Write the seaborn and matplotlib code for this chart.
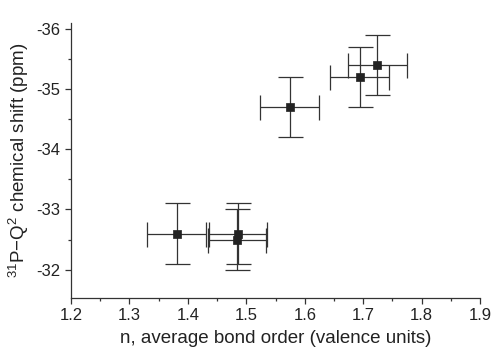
import matplotlib
matplotlib.use("Agg")
import matplotlib.pyplot as plt
from matplotlib.ticker import MultipleLocator
import seaborn as sns
import pandas as pd

bond_order = [1.381, 1.486, 1.484, 1.574, 1.694, 1.724]
shift_ppm = [-32.6, -32.6, -32.5, -34.7, -35.2, -35.4]
bond_err = [0.05, 0.05, 0.05, 0.05, 0.05, 0.05]
shift_err = [0.5, 0.5, 0.5, 0.5, 0.5, 0.5]

df = pd.DataFrame({"n": bond_order, "shift": shift_ppm})

sns.set_theme(style="ticks")
plt.rcParams["font.family"] = ["Liberation Sans", "DejaVu Sans"]
plt.rcParams["mathtext.fontset"] = "custom"
plt.rcParams["mathtext.rm"] = "Liberation Sans"
plt.rcParams["axes.unicode_minus"] = False

fig = plt.figure(figsize=(4.92, 3.53), dpi=100)
ax = fig.add_axes([0.144, 0.156, 0.832, 0.779])

ax.errorbar(bond_order, shift_ppm, xerr=bond_err, yerr=shift_err, fmt="none",
            ecolor="#333333", elinewidth=0.9, capsize=9, capthick=0.9, zorder=2)
sns.scatterplot(data=df, x="n", y="shift", marker="s", s=40, color="#222222",
                edgecolor="#222222", linewidth=0.5, ax=ax, zorder=3)

ax.set_xlim(1.2, 1.9)
ax.set_ylim(-31.53, -36.1)
ax.xaxis.set_major_locator(MultipleLocator(0.1))
ax.xaxis.set_minor_locator(MultipleLocator(0.05))
ax.yaxis.set_major_locator(MultipleLocator(1))
ax.yaxis.set_minor_locator(MultipleLocator(0.5))
ax.set_xticks([1.2, 1.3, 1.4, 1.5, 1.6, 1.7, 1.8, 1.9])
ax.set_xticklabels(["1.2", "1.3", "1.4", "1.5", "1.6", "1.7", "1.8", "1.9"])
ax.set_yticks([-36, -35, -34, -33, -32])
ax.set_yticklabels(["-36", "-35", "-34", "-33", "-32"])

for s in ["top", "right"]:
    ax.spines[s].set_visible(False)
for s in ["left", "bottom"]:
    ax.spines[s].set_color("#333333")
    ax.spines[s].set_linewidth(0.9)

ax.tick_params(axis="both", which="major", direction="out", length=4.5, width=0.9,
               color="#333333", labelsize=12, labelcolor="#222222", pad=3)
ax.tick_params(axis="both", which="minor", direction="out", length=2.5, width=0.9,
               color="#333333")

ax.set_xlabel("n, average bond order (valence units)", fontsize=13.5, color="#222222", labelpad=5)
ax.set_ylabel(r"$^{31}$P$-$Q$^{2}$ chemical shift (ppm)", fontsize=13.5, color="#222222", labelpad=4)

fig.savefig("out.png", dpi=100)
